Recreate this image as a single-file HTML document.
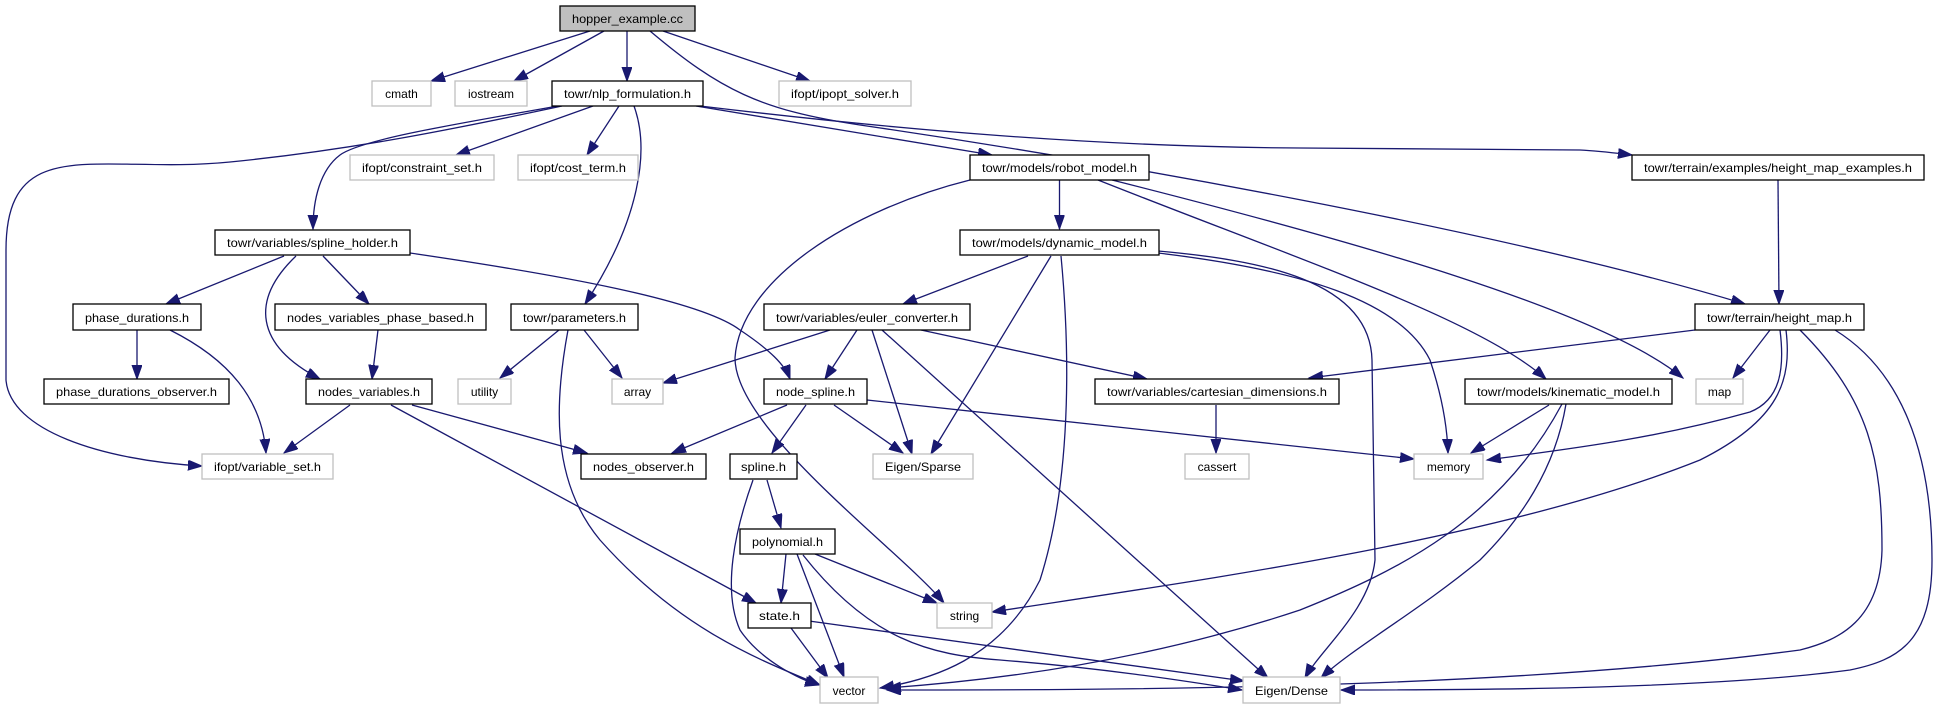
<!DOCTYPE html>
<html><head><meta charset="utf-8"><style>
html,body{margin:0;padding:0;background:#fff;}
svg{display:block;}
text{font-family:"Liberation Sans",sans-serif;font-size:12px;fill:#000;}
.e{fill:none;stroke:#191970;stroke-width:1.3;}
</style></head><body>
<svg width="1938" height="709" viewBox="0 0 1938 709" xmlns="http://www.w3.org/2000/svg">
<defs>
<marker id="a" markerUnits="userSpaceOnUse" markerWidth="16" markerHeight="12" refX="14" refY="5" orient="auto">
<path d="M0,0 L14,5 L0,10 z" fill="#191970" stroke="#191970" stroke-width="1"/>
</marker>
</defs>
<g marker-end="url(#a)">
<path class="e" d="M590,31 L431,81"/>
<path class="e" d="M604,31 L514,81"/>
<path class="e" d="M627,31 L627,81"/>
<path class="e" d="M663,31 L810,81"/>
<path class="e" d="M650,31 C720,90 760,110 860,125 C1100,160 1500,230 1745,304"/>
<path class="e" d="M562,106 C450,130 350,150 230,162 C100,175 6,130 6,250 L6,380 C10,430 100,460 202,466"/>
<path class="e" d="M558,106 C450,125 360,140 340,155 C320,170 313,200 313,229"/>
<path class="e" d="M593,106 L456,155"/>
<path class="e" d="M619,106 L587,155"/>
<path class="e" d="M634,106 C650,150 640,220 585,304"/>
<path class="e" d="M696,106 L992,155"/>
<path class="e" d="M700,106 C900,130 1100,147 1300,148 L1580,150 C1600,151 1615,153 1632,155"/>
<path class="e" d="M284,256 L166,304"/>
<path class="e" d="M296,256 C250,300 255,345 320,379"/>
<path class="e" d="M323,256 L369,304"/>
<path class="e" d="M410,253 C560,275 700,300 740,330 C770,350 785,365 790,379"/>
<path class="e" d="M137,330 L137,379"/>
<path class="e" d="M170,330 C230,360 262,400 266,453"/>
<path class="e" d="M378,330 L372,379"/>
<path class="e" d="M559,330 L500,378"/>
<path class="e" d="M584,330 L622,378"/>
<path class="e" d="M568,330 C555,400 550,480 600,540 C680,630 760,660 820,685"/>
<path class="e" d="M1059.5,180 L1059.5,229"/>
<path class="e" d="M970,180 C850,210 740,280 735,358 C735,430 900,550 944,603"/>
<path class="e" d="M1098,180 C1300,260 1480,320 1546,379"/>
<path class="e" d="M1112,180 C1350,240 1600,310 1683,378"/>
<path class="e" d="M1028,256 L903,304"/>
<path class="e" d="M1051,256 L931,454"/>
<path class="e" d="M1061,256 C1068,330 1075,470 1040,580 C1000,660 930,680 880,688"/>
<path class="e" d="M1158,251 C1260,260 1370,280 1372,360 L1375,560 C1370,610 1320,650 1305,678"/>
<path class="e" d="M1158,253 C1300,270 1400,300 1430,360 C1440,390 1447,420 1448,453"/>
<path class="e" d="M830,330 L663,383"/>
<path class="e" d="M857,330 L825,379"/>
<path class="e" d="M872,330 L912,454"/>
<path class="e" d="M921,330 L1147,379"/>
<path class="e" d="M882,330 L1268,678"/>
<path class="e" d="M787,405 L672,453"/>
<path class="e" d="M806,405 L772,453"/>
<path class="e" d="M834,405 L903,453"/>
<path class="e" d="M867,400 L1414,459"/>
<path class="e" d="M350,405 L284,453"/>
<path class="e" d="M412,405 L587,453"/>
<path class="e" d="M391,405 L756,603"/>
<path class="e" d="M767,480 L781,528"/>
<path class="e" d="M753,480 C735,530 722,590 740,630 C760,660 800,680 819,685"/>
<path class="e" d="M786,554 L781,603"/>
<path class="e" d="M797,554 L844,677"/>
<path class="e" d="M815,554 L937,603"/>
<path class="e" d="M803,555 C870,640 930,655 1000,660 C1100,668 1180,680 1242,690"/>
<path class="e" d="M791,628 L828,678"/>
<path class="e" d="M809,621 L1244,681"/>
<path class="e" d="M1216,405 L1216,453"/>
<path class="e" d="M1549,405 L1471,453"/>
<path class="e" d="M1562,404 C1500,520 1400,570 1300,610 C1150,660 1000,680 887,688"/>
<path class="e" d="M1566,404 C1555,470 1520,520 1480,560 C1420,610 1350,650 1321,678"/>
<path class="e" d="M1695,330 L1309,378"/>
<path class="e" d="M1770,330 L1733,378"/>
<path class="e" d="M1780,330 C1785,370 1780,400 1750,412 C1650,440 1560,450 1487,460"/>
<path class="e" d="M1786,330 C1792,380 1780,420 1700,460 C1500,540 1200,580 992,612"/>
<path class="e" d="M1800,330 C1870,400 1882,460 1882,550 C1880,620 1840,640 1800,650 C1500,690 1100,690 887,690"/>
<path class="e" d="M1835,330 C1900,370 1932,450 1932,560 C1932,640 1900,660 1850,670 C1700,690 1450,690 1341,690"/>
<path class="e" d="M1778,180 L1779,304"/>
</g>
<g stroke-width="1.3">
<g fill="#fff" stroke="#bfbfbf">
<rect x="372" y="81" width="59" height="25"/>
<rect x="455" y="81" width="72" height="25"/>
<rect x="779" y="81" width="132" height="25"/>
<rect x="350" y="155" width="144" height="25"/>
<rect x="518" y="155" width="120" height="25"/>
<rect x="458" y="379" width="53" height="25"/>
<rect x="612" y="379" width="51" height="25"/>
<rect x="202" y="454" width="131" height="25"/>
<rect x="873" y="454" width="100" height="25"/>
<rect x="937" y="603" width="55" height="25"/>
<rect x="820" y="677" width="58" height="26"/>
<rect x="1185" y="454" width="64" height="25"/>
<rect x="1414" y="454" width="69" height="25"/>
<rect x="1696" y="379" width="47" height="25"/>
<rect x="1243" y="677" width="97" height="26"/>
</g>
<g fill="#fff" stroke="#000">
<rect x="560" y="6" width="135" height="25" fill="#bfbfbf"/>
<rect x="552" y="81" width="151" height="25"/>
<rect x="215" y="230" width="195" height="25"/>
<rect x="73" y="304" width="128" height="26"/>
<rect x="275" y="304" width="211" height="26"/>
<rect x="511" y="304" width="127" height="26"/>
<rect x="970" y="155" width="179" height="25"/>
<rect x="960" y="230" width="199" height="25"/>
<rect x="764" y="304" width="206" height="26"/>
<rect x="1632" y="155" width="292" height="25"/>
<rect x="1695" y="304" width="169" height="26"/>
<rect x="44" y="379" width="185" height="25"/>
<rect x="306" y="379" width="126" height="25"/>
<rect x="764" y="379" width="103" height="25"/>
<rect x="581" y="454" width="125" height="25"/>
<rect x="730" y="454" width="67" height="25"/>
<rect x="740" y="529" width="95" height="25"/>
<rect x="748" y="603" width="63" height="25"/>
<rect x="1095" y="379" width="244" height="25"/>
<rect x="1465" y="379" width="207" height="25"/>
</g>
</g>
<g text-anchor="middle">
<text x="627.5" y="23" textLength="111" lengthAdjust="spacingAndGlyphs">hopper_example.cc</text>
<text x="401.5" y="98">cmath</text>
<text x="491" y="98">iostream</text>
<text x="627.5" y="98" textLength="127" lengthAdjust="spacingAndGlyphs">towr/nlp_formulation.h</text>
<text x="845" y="98" textLength="108" lengthAdjust="spacingAndGlyphs">ifopt/ipopt_solver.h</text>
<text x="422" y="172" textLength="120" lengthAdjust="spacingAndGlyphs">ifopt/constraint_set.h</text>
<text x="578" y="172" textLength="96" lengthAdjust="spacingAndGlyphs">ifopt/cost_term.h</text>
<text x="312.5" y="247" textLength="171" lengthAdjust="spacingAndGlyphs">towr/variables/spline_holder.h</text>
<text x="137" y="322" textLength="104" lengthAdjust="spacingAndGlyphs">phase_durations.h</text>
<text x="380.5" y="322" textLength="187" lengthAdjust="spacingAndGlyphs">nodes_variables_phase_based.h</text>
<text x="574.5" y="322" textLength="103" lengthAdjust="spacingAndGlyphs">towr/parameters.h</text>
<text x="1059.5" y="172" textLength="155" lengthAdjust="spacingAndGlyphs">towr/models/robot_model.h</text>
<text x="1059.5" y="247" textLength="175" lengthAdjust="spacingAndGlyphs">towr/models/dynamic_model.h</text>
<text x="867" y="322" textLength="182" lengthAdjust="spacingAndGlyphs">towr/variables/euler_converter.h</text>
<text x="1778" y="172" textLength="268" lengthAdjust="spacingAndGlyphs">towr/terrain/examples/height_map_examples.h</text>
<text x="1779.5" y="322" textLength="145" lengthAdjust="spacingAndGlyphs">towr/terrain/height_map.h</text>
<text x="136.5" y="396" textLength="161" lengthAdjust="spacingAndGlyphs">phase_durations_observer.h</text>
<text x="369" y="396" textLength="102" lengthAdjust="spacingAndGlyphs">nodes_variables.h</text>
<text x="484.5" y="396">utility</text>
<text x="637.5" y="396">array</text>
<text x="815.5" y="396" textLength="79" lengthAdjust="spacingAndGlyphs">node_spline.h</text>
<text x="267.5" y="471" textLength="107" lengthAdjust="spacingAndGlyphs">ifopt/variable_set.h</text>
<text x="643.5" y="471" textLength="101" lengthAdjust="spacingAndGlyphs">nodes_observer.h</text>
<text x="763.5" y="471" textLength="45" lengthAdjust="spacingAndGlyphs">spline.h</text>
<text x="923" y="471" textLength="76" lengthAdjust="spacingAndGlyphs">Eigen/Sparse</text>
<text x="787.5" y="546" textLength="71" lengthAdjust="spacingAndGlyphs">polynomial.h</text>
<text x="779.5" y="620" textLength="41" lengthAdjust="spacingAndGlyphs">state.h</text>
<text x="964.5" y="620">string</text>
<text x="849" y="695">vector</text>
<text x="1217" y="396" textLength="220" lengthAdjust="spacingAndGlyphs">towr/variables/cartesian_dimensions.h</text>
<text x="1568.5" y="396" textLength="183" lengthAdjust="spacingAndGlyphs">towr/models/kinematic_model.h</text>
<text x="1719.5" y="396">map</text>
<text x="1217" y="471">cassert</text>
<text x="1448.5" y="471">memory</text>
<text x="1291.5" y="695" textLength="73" lengthAdjust="spacingAndGlyphs">Eigen/Dense</text>
</g>
</svg>
</body></html>
